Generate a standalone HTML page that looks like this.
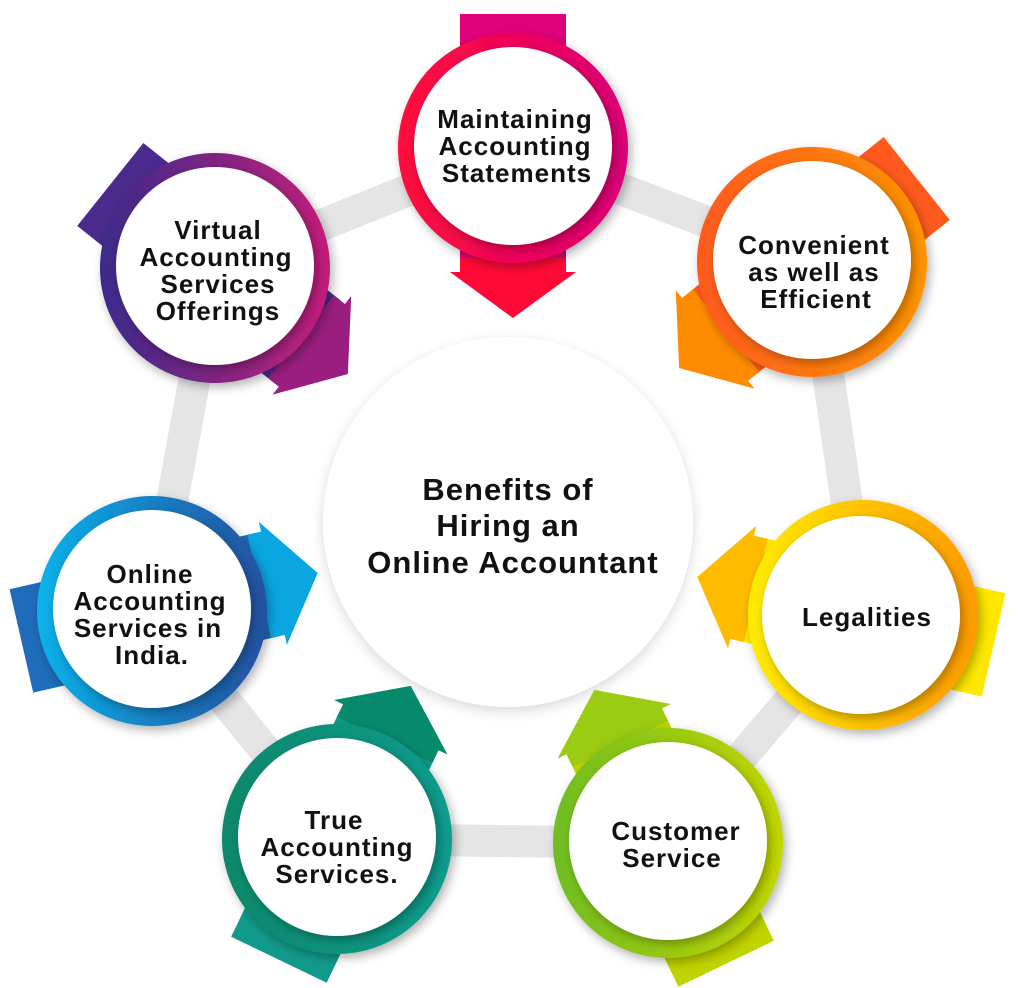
<!DOCTYPE html>
<html><head><meta charset="utf-8"><style>
html,body{margin:0;padding:0;background:#fff;}
svg{display:block;}
text{font-family:"Liberation Sans",sans-serif;font-weight:bold;fill:#111;text-anchor:middle;}
</style></head><body>
<svg width="1024" height="988" viewBox="0 0 1024 988" xmlns="http://www.w3.org/2000/svg">
<defs>
<filter id="sh" x="-30%" y="-30%" width="160%" height="160%"><feDropShadow dx="3" dy="4" stdDeviation="5" flood-color="#000" flood-opacity="0.3"/></filter>
<filter id="sh2" x="-30%" y="-30%" width="160%" height="160%"><feDropShadow dx="0" dy="4" stdDeviation="6" flood-color="#000" flood-opacity="0.15"/></filter>
<linearGradient id="g0" x1="0" y1="0" x2="1" y2="0"><stop offset="0" stop-color="#ff0a3a"/><stop offset="1" stop-color="#dc0078"/></linearGradient>
<linearGradient id="g1" x1="0" y1="0" x2="1" y2="0"><stop offset="0" stop-color="#ff5a1e"/><stop offset="1" stop-color="#ff9400"/></linearGradient>
<linearGradient id="g2" x1="0" y1="0" x2="1" y2="0"><stop offset="0" stop-color="#ffec00"/><stop offset="1" stop-color="#ff9a00"/></linearGradient>
<linearGradient id="g3" x1="0" y1="0" x2="1" y2="0"><stop offset="0" stop-color="#6fbd22"/><stop offset="1" stop-color="#c3d600"/></linearGradient>
<linearGradient id="g4" x1="0" y1="0" x2="1" y2="0"><stop offset="0" stop-color="#07886a"/><stop offset="1" stop-color="#0d9c8e"/></linearGradient>
<linearGradient id="g5" x1="0" y1="0" x2="1" y2="0"><stop offset="0" stop-color="#08b2ea"/><stop offset="1" stop-color="#2450a0"/></linearGradient>
<linearGradient id="g6" x1="0" y1="0" x2="1" y2="0"><stop offset="0" stop-color="#3a2a8a"/><stop offset="1" stop-color="#c41e7a"/></linearGradient>
</defs>

<polygon points="513,148 812,262 863,615 668,843 337,839 152,611 215,268" fill="none" stroke="#e5e5e5" stroke-width="32" stroke-linejoin="round"/>

<circle cx="508" cy="522" r="185" fill="#fff" filter="url(#sh2)"/>
<text x="508" y="500" font-size="31" letter-spacing="1">Benefits of</text>
<text x="508" y="536" font-size="31" letter-spacing="1">Hiring an</text>
<text x="513" y="573" font-size="31" letter-spacing="1">Online Accountant</text>

<g transform="translate(513,148) rotate(0)">
<rect x="-53" y="-134" width="106" height="250" fill="#e0007a"/>
<polygon points="-53,110 53,110 53,124 63,124 0,170 -63,124 -53,124" fill="#ff0a36"/>
</g>
<g transform="translate(812,262) rotate(51.4)">
<rect x="-53" y="-134" width="106" height="250" fill="#ff5a1e"/>
<polygon points="-53,110 53,110 53,124 63,124 0,170 -63,124 -53,124" fill="#ff8c00"/>
</g>
<g transform="translate(863,615) rotate(102.9)">
<rect x="-53" y="-134" width="106" height="250" fill="#ffe800"/>
<polygon points="-53,110 53,110 53,124 63,124 0,170 -63,124 -53,124" fill="#ffbb00"/>
</g>
<g transform="translate(668,843) rotate(154.3)">
<rect x="-53" y="-134" width="106" height="250" fill="#bfd400"/>
<polygon points="-53,110 53,110 53,124 63,124 0,170 -63,124 -53,124" fill="#9ccb14"/>
</g>
<g transform="translate(337,839) rotate(205.7)">
<rect x="-53" y="-134" width="106" height="250" fill="#119a8c"/>
<polygon points="-53,110 53,110 53,124 63,124 0,170 -63,124 -53,124" fill="#078a6c"/>
</g>
<g transform="translate(152,611) rotate(257.1)">
<rect x="-53" y="-134" width="106" height="250" fill="#1e6cba"/>
<polygon points="-53,110 53,110 53,124 63,124 0,170 -63,124 -53,124" fill="#0aa6e2"/>
</g>
<g transform="translate(215,268) rotate(308.6)">
<rect x="-53" y="-134" width="106" height="250" fill="#4a2a8c"/>
<polygon points="-53,110 53,110 53,124 63,124 0,170 -63,124 -53,124" fill="#9a1e80"/>
</g>

<circle cx="513" cy="148" r="115" fill="url(#g0)" filter="url(#sh)"/>
<circle cx="812" cy="262" r="115" fill="url(#g1)" filter="url(#sh)"/>
<circle cx="863" cy="615" r="115" fill="url(#g2)" filter="url(#sh)"/>
<circle cx="668" cy="843" r="115" fill="url(#g3)" filter="url(#sh)"/>
<circle cx="337" cy="839" r="115" fill="url(#g4)" filter="url(#sh)"/>
<circle cx="152" cy="611" r="115" fill="url(#g5)" filter="url(#sh)"/>
<circle cx="215" cy="268" r="115" fill="url(#g6)" filter="url(#sh)"/>

<g fill="#fff" filter="url(#sh)">
<circle cx="513" cy="146" r="99"/>
<circle cx="812" cy="260" r="99"/>
<circle cx="861" cy="615" r="99"/>
<circle cx="668" cy="841" r="99"/>
<circle cx="337" cy="837" r="99"/>
<circle cx="152" cy="609" r="99"/>
<circle cx="215" cy="266" r="99"/>
</g>

<g font-size="26" letter-spacing="1">
<text x="515" y="128">Maintaining</text>
<text x="515" y="155">Accounting</text>
<text x="517" y="182">Statements</text>

<text x="814" y="254">Convenient</text>
<text x="814" y="281">as well as</text>
<text x="816" y="308">Efficient</text>

<text x="867" y="626">Legalities</text>

<text x="676" y="840">Customer</text>
<text x="672" y="867">Service</text>

<text x="334" y="829">True</text>
<text x="337" y="856">Accounting</text>
<text x="337" y="883">Services.</text>

<text x="150" y="583">Online</text>
<text x="150" y="610">Accounting</text>
<text x="148" y="637">Services in</text>
<text x="152" y="664">India.</text>

<text x="218" y="239">Virtual</text>
<text x="216" y="266">Accounting</text>
<text x="218" y="293">Services</text>
<text x="218" y="320">Offerings</text>
</g>
</svg>
</body></html>
